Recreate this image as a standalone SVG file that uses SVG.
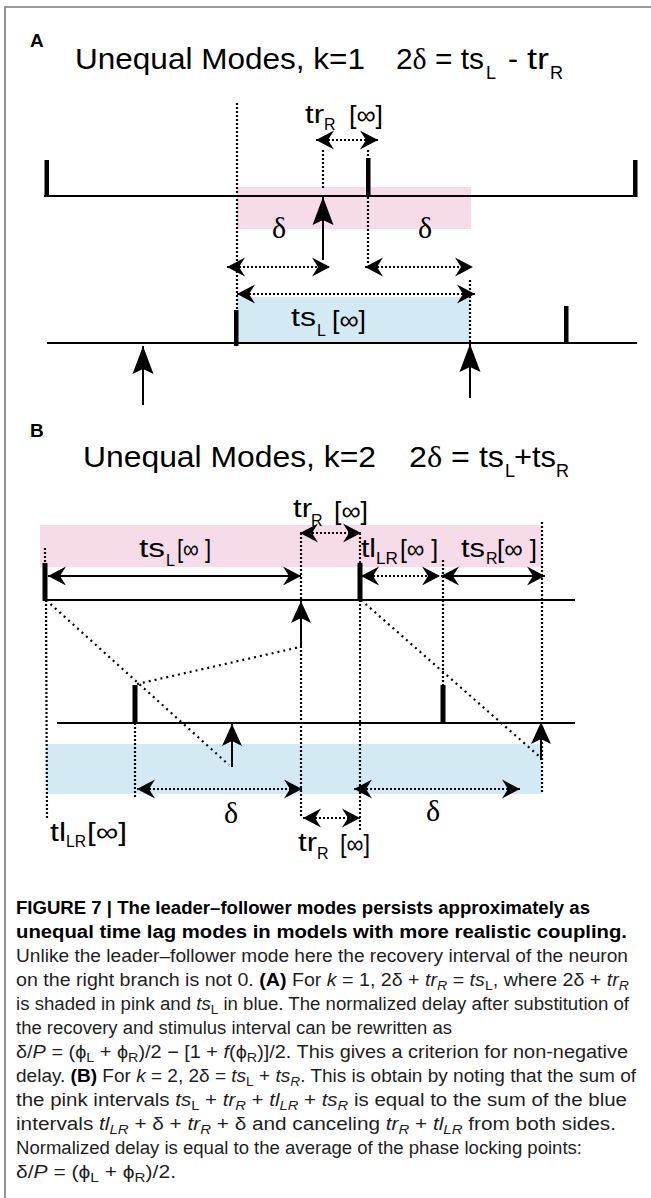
<svg xmlns="http://www.w3.org/2000/svg" width="651" height="1198" viewBox="0 0 651 1198">
<style>
.t{font-family:"Liberation Sans",Arial,sans-serif;fill:#000}
.s{font-family:"Liberation Serif","Times New Roman",serif}
.ti{font-size:30px}
.ts{font-size:18px}
.lb{font-size:26px}
.sb{font-size:16px}
.d{font-family:"Liberation Serif","Times New Roman",serif;font-size:30px;text-anchor:middle;fill:#000}
.ln{stroke:#000;stroke-width:2;fill:none}
.dot{stroke:#000;stroke-width:2.2;stroke-dasharray:2 2;fill:none}
.dd{stroke:#000;stroke-width:2.2;stroke-dasharray:2 4;fill:none}
.cap{font-family:"Liberation Sans",Arial,sans-serif;font-size:18px;fill:#1e1e1e}
.bo{font-weight:bold;fill:#000}
.it{font-style:italic}
</style>
<defs>
<marker id="ah" viewBox="-20 -11 21 22" refX="0" refY="0" markerWidth="21" markerHeight="22" markerUnits="userSpaceOnUse" orient="auto-start-reverse"><path d="M0,0 L-18,-9.5 L-12,0 L-18,9.5 Z" fill="#000"/></marker>
<marker id="big" viewBox="-29 -12 30 24" refX="0" refY="0" markerWidth="30" markerHeight="24" markerUnits="userSpaceOnUse" orient="auto"><path d="M0,0 L-28,-10.5 L-23,0 L-28,10.5 Z" fill="#000"/></marker>
<marker id="mid" viewBox="-23 -11 24 22" refX="0" refY="0" markerWidth="24" markerHeight="22" markerUnits="userSpaceOnUse" orient="auto"><path d="M0,0 L-22,-10 L-17,0 L-22,10 Z" fill="#000"/></marker>
</defs>
<path d="M5,1198 V7 H651" stroke="#7a7a7a" stroke-width="1.6" fill="none"/>

<g id="panelA">
<g id="A-shading">
<rect x="237" y="187" width="234" height="42" fill="#f6dce9"/>
<rect x="237" y="297" width="233" height="47" fill="#d3eaf4"/>
</g>
<g id="A-title">
<text class="t bo" x="30" y="47" font-size="19">A</text>
<text class="t ti" x="75" y="69" textLength="290" lengthAdjust="spacingAndGlyphs">Unequal Modes, k=1</text>
<text class="t ti" x="396" y="69" textLength="88" lengthAdjust="spacingAndGlyphs">2<tspan class="s">δ</tspan> = ts</text>
<text class="t ts" x="486" y="79">L</text>
<text class="t ti" x="508" y="69">-</text>
<text class="t ti" x="527" y="69" textLength="22" lengthAdjust="spacingAndGlyphs">tr</text>
<text class="t ts" x="550" y="79">R</text>
</g>
<g id="A-lines">
<line class="ln" x1="44" y1="196" x2="637" y2="196"/>
<line class="ln" x1="47" y1="343" x2="637" y2="343"/>
</g>
<g id="A-spikes">
<rect x="44.5" y="160" width="4.5" height="37"/>
<rect x="366" y="158" width="4.5" height="38"/>
<rect x="633" y="160" width="4.5" height="37"/>
<rect x="234" y="310" width="4.5" height="36"/>
<rect x="564" y="306" width="4.5" height="37"/>
</g>
<g id="A-labels">
<text class="t lb" x="305" y="123" textLength="19" lengthAdjust="spacingAndGlyphs">tr</text>
<text class="t sb" x="324" y="130">R</text>
<text class="t lb" x="349" y="124" textLength="34" lengthAdjust="spacingAndGlyphs">[∞]</text>
<text class="d" x="279" y="238">δ</text>
<text class="d" x="425" y="238">δ</text>
<text class="t lb" x="291" y="326" textLength="25" lengthAdjust="spacingAndGlyphs">ts</text>
<text class="t sb" x="317" y="336">L</text>
<text class="t lb" x="332" y="329" textLength="34" lengthAdjust="spacingAndGlyphs">[∞]</text>
</g>
</g>

<g id="panelB">
<g id="B-shading">
<rect x="40" y="525" width="502" height="42" fill="#f6dce9"/>
<rect x="46" y="744" width="496" height="50" fill="#d3eaf4"/>
</g>
<g id="B-title">
<text class="t bo" x="30" y="437" font-size="19">B</text>
<text class="t ti" x="83" y="467" textLength="293" lengthAdjust="spacingAndGlyphs">Unequal Modes, k=2</text>
<text class="t ti" x="409" y="467" textLength="95" lengthAdjust="spacingAndGlyphs">2<tspan class="s">δ</tspan> = ts</text>
<text class="t ts" x="505" y="477">L</text>
<text class="t ti" x="514" y="467" textLength="42" lengthAdjust="spacingAndGlyphs">+ts</text>
<text class="t ts" x="556" y="477">R</text>
</g>
<g id="B-lines">
<line class="ln" x1="45" y1="600" x2="575" y2="600"/>
<line class="ln" x1="57" y1="723" x2="575" y2="723"/>
</g>
<g id="B-spikes">
<rect x="42.5" y="563" width="5" height="38"/>
<rect x="357.5" y="563" width="5" height="38"/>
<rect x="132.5" y="685" width="5" height="38"/>
<rect x="440.5" y="685" width="5" height="38"/>
</g>
<g id="B-labels">
<text class="t lb" x="293" y="517" textLength="19" lengthAdjust="spacingAndGlyphs">tr</text>
<text class="t sb" x="311" y="526">R</text>
<text class="t lb" x="334" y="520" textLength="34" lengthAdjust="spacingAndGlyphs">[∞]</text>
<text class="t lb" x="139" y="557" textLength="26" lengthAdjust="spacingAndGlyphs">ts</text>
<text class="t sb" x="166" y="566">L</text>
<text class="t lb" x="177" y="558" textLength="34" lengthAdjust="spacingAndGlyphs">[∞ ]</text>
<text class="t lb" x="361" y="557" textLength="15" lengthAdjust="spacingAndGlyphs">tl</text>
<text class="t sb" x="376" y="564" textLength="22" lengthAdjust="spacingAndGlyphs">LR</text>
<text class="t lb" x="400" y="558" textLength="38" lengthAdjust="spacingAndGlyphs">[∞ ]</text>
<text class="t lb" x="461" y="557" textLength="24" lengthAdjust="spacingAndGlyphs">ts</text>
<text class="t sb" x="486" y="564">R</text>
<text class="t lb" x="497" y="558" textLength="40" lengthAdjust="spacingAndGlyphs">[∞ ]</text>
<text class="d" x="231" y="823" font-size="28">δ</text>
<text class="d" x="433" y="821" font-size="28">δ</text>
<text class="t lb" x="50" y="841" textLength="16" lengthAdjust="spacingAndGlyphs">tl</text>
<text class="t sb" x="66" y="847" textLength="20" lengthAdjust="spacingAndGlyphs">LR</text>
<text class="t lb" x="87" y="841" textLength="40" lengthAdjust="spacingAndGlyphs">[∞]</text>
<text class="t lb" x="298" y="851" textLength="19" lengthAdjust="spacingAndGlyphs">tr</text>
<text class="t sb" x="317" y="859">R</text>
<text class="t lb" x="340" y="853" textLength="30" lengthAdjust="spacingAndGlyphs">[∞]</text>
</g>
</g>

<g id="connectors">
<line class="dot" x1="237" y1="103" x2="237" y2="310"/>
<line class="dot" x1="323" y1="150" x2="323" y2="190"/>
<line class="dot" x1="368" y1="150" x2="368" y2="158"/>
<line class="dot" x1="368" y1="197" x2="368" y2="265"/>
<line class="dot" x1="470" y1="280" x2="470" y2="343"/>
<line class="dot" x1="316" y1="140" x2="378" y2="140" marker-start="url(#ah)" marker-end="url(#ah)"/>
<line class="dot" x1="227" y1="267" x2="330" y2="267" marker-start="url(#ah)" marker-end="url(#ah)"/>
<line class="dot" x1="365" y1="267" x2="473" y2="267" marker-start="url(#ah)" marker-end="url(#ah)"/>
<line class="dot" x1="237" y1="294" x2="475" y2="294" marker-start="url(#ah)" marker-end="url(#ah)"/>
<line class="ln" x1="323" y1="260" x2="323" y2="197" marker-end="url(#big)"/>
<line class="ln" x1="143" y1="405" x2="143" y2="346" marker-end="url(#big)"/>
<line class="ln" x1="470" y1="398" x2="470" y2="344" marker-end="url(#big)"/>

<line class="dot" x1="45" y1="548" x2="45" y2="563"/>
<line class="dot" x1="46" y1="600" x2="47" y2="820"/>
<line class="dot" x1="301" y1="533" x2="301" y2="600"/>
<line class="dot" x1="301" y1="646" x2="301" y2="818"/>
<line class="dot" x1="360" y1="533" x2="360" y2="563"/>
<line class="dot" x1="360" y1="600" x2="360" y2="830"/>
<line class="dot" x1="443" y1="560" x2="443" y2="685"/>
<line class="dot" x1="542" y1="522" x2="542" y2="794"/>
<line class="dot" x1="135" y1="723" x2="135" y2="798"/>
<line class="dd" x1="46" y1="600" x2="229" y2="765"/>
<line class="dd" x1="137" y1="684" x2="300" y2="647"/>
<line class="dd" x1="361" y1="600" x2="540" y2="757"/>
<line class="dot" x1="300" y1="533" x2="361" y2="533" marker-start="url(#ah)" marker-end="url(#ah)"/>
<line class="ln" x1="48" y1="576" x2="301" y2="576" marker-start="url(#ah)" marker-end="url(#ah)"/>
<line class="dot" x1="361" y1="576" x2="440" y2="576" marker-start="url(#ah)" marker-end="url(#ah)"/>
<line class="ln" x1="441" y1="576" x2="545" y2="576" marker-start="url(#ah)" marker-end="url(#ah)"/>
<line class="ln" x1="301" y1="646" x2="301" y2="601" marker-end="url(#mid)"/>
<line class="ln" x1="232" y1="767" x2="232" y2="724" marker-end="url(#mid)"/>
<line class="ln" x1="541" y1="760" x2="541" y2="722" marker-end="url(#mid)"/>
<line class="dot" x1="137" y1="789" x2="302" y2="789" marker-start="url(#ah)" marker-end="url(#ah)"/>
<line class="dot" x1="354" y1="789" x2="520" y2="789" marker-start="url(#ah)" marker-end="url(#ah)"/>
<line class="dot" x1="303" y1="818" x2="360" y2="818" marker-start="url(#ah)" marker-end="url(#ah)"/>
</g>

<g id="caption">
<text class="cap bo" x="16" y="914" textLength="574" lengthAdjust="spacingAndGlyphs">FIGURE 7 | The leader–follower modes persists approximately as</text>
<text class="cap bo" x="16" y="938" textLength="611" lengthAdjust="spacingAndGlyphs">unequal time lag modes in models with more realistic coupling.</text>
<text class="cap" x="16" y="962" textLength="612" lengthAdjust="spacingAndGlyphs">Unlike the leader–follower mode here the recovery interval of the neuron</text>
<text class="cap" x="16" y="986" textLength="613" lengthAdjust="spacingAndGlyphs">on the right branch is not 0. <tspan class="bo">(A)</tspan> For <tspan class="it">k</tspan> = 1, 2δ + <tspan class="it">tr</tspan><tspan class="it" font-size="13" dy="4">R</tspan><tspan dy="-4"> = </tspan><tspan class="it">ts</tspan><tspan font-size="13" dy="4">L</tspan><tspan dy="-4">, where 2δ + </tspan><tspan class="it">tr</tspan><tspan class="it" font-size="13" dy="4">R</tspan></text>
<text class="cap" x="16" y="1010" textLength="613" lengthAdjust="spacingAndGlyphs">is shaded in pink and <tspan class="it">ts</tspan><tspan font-size="13" dy="4">L</tspan><tspan dy="-4"> in blue. The normalized delay after substitution of</tspan></text>
<text class="cap" x="16" y="1034" textLength="436" lengthAdjust="spacingAndGlyphs">the recovery and stimulus interval can be rewritten as</text>
<text class="cap" x="16" y="1058" textLength="612" lengthAdjust="spacingAndGlyphs">δ/<tspan class="it">P</tspan> = (ϕ<tspan font-size="13" dy="4">L</tspan><tspan dy="-4"> + ϕ</tspan><tspan font-size="13" dy="4">R</tspan><tspan dy="-4">)/2 − [1 + </tspan><tspan class="it">f</tspan>(ϕ<tspan font-size="13" dy="4">R</tspan><tspan dy="-4">)]/2. This gives a criterion for non-negative</tspan></text>
<text class="cap" x="16" y="1082" textLength="620" lengthAdjust="spacingAndGlyphs">delay. <tspan class="bo">(B)</tspan> For <tspan class="it">k</tspan> = 2, 2δ = <tspan class="it">ts</tspan><tspan font-size="13" dy="4">L</tspan><tspan dy="-4"> + </tspan><tspan class="it">ts</tspan><tspan class="it" font-size="13" dy="4">R</tspan><tspan dy="-4">. This is obtain by noting that the sum of</tspan></text>
<text class="cap" x="16" y="1106" textLength="611" lengthAdjust="spacingAndGlyphs">the pink intervals <tspan class="it">ts</tspan><tspan font-size="13" dy="4">L</tspan><tspan dy="-4"> + </tspan><tspan class="it">tr</tspan><tspan class="it" font-size="13" dy="4">R</tspan><tspan dy="-4"> + </tspan><tspan class="it">tl</tspan><tspan class="it" font-size="13" dy="4">LR</tspan><tspan dy="-4"> + </tspan><tspan class="it">ts</tspan><tspan class="it" font-size="13" dy="4">R</tspan><tspan dy="-4"> is equal to the sum of the blue</tspan></text>
<text class="cap" x="16" y="1130" textLength="600" lengthAdjust="spacingAndGlyphs">intervals <tspan class="it">tl</tspan><tspan class="it" font-size="13" dy="4">LR</tspan><tspan dy="-4"> + δ + </tspan><tspan class="it">tr</tspan><tspan class="it" font-size="13" dy="4">R</tspan><tspan dy="-4"> + δ and canceling </tspan><tspan class="it">tr</tspan><tspan class="it" font-size="13" dy="4">R</tspan><tspan dy="-4"> + </tspan><tspan class="it">tl</tspan><tspan class="it" font-size="13" dy="4">LR</tspan><tspan dy="-4"> from both sides.</tspan></text>
<text class="cap" x="16" y="1154" textLength="566" lengthAdjust="spacingAndGlyphs">Normalized delay is equal to the average of the phase locking points:</text>
<text class="cap" x="16" y="1178" textLength="160" lengthAdjust="spacingAndGlyphs">δ/<tspan class="it">P</tspan> = (ϕ<tspan font-size="13" dy="4">L</tspan><tspan dy="-4"> + ϕ</tspan><tspan font-size="13" dy="4">R</tspan><tspan dy="-4">)/2.</tspan></text>
</g>
</svg>
